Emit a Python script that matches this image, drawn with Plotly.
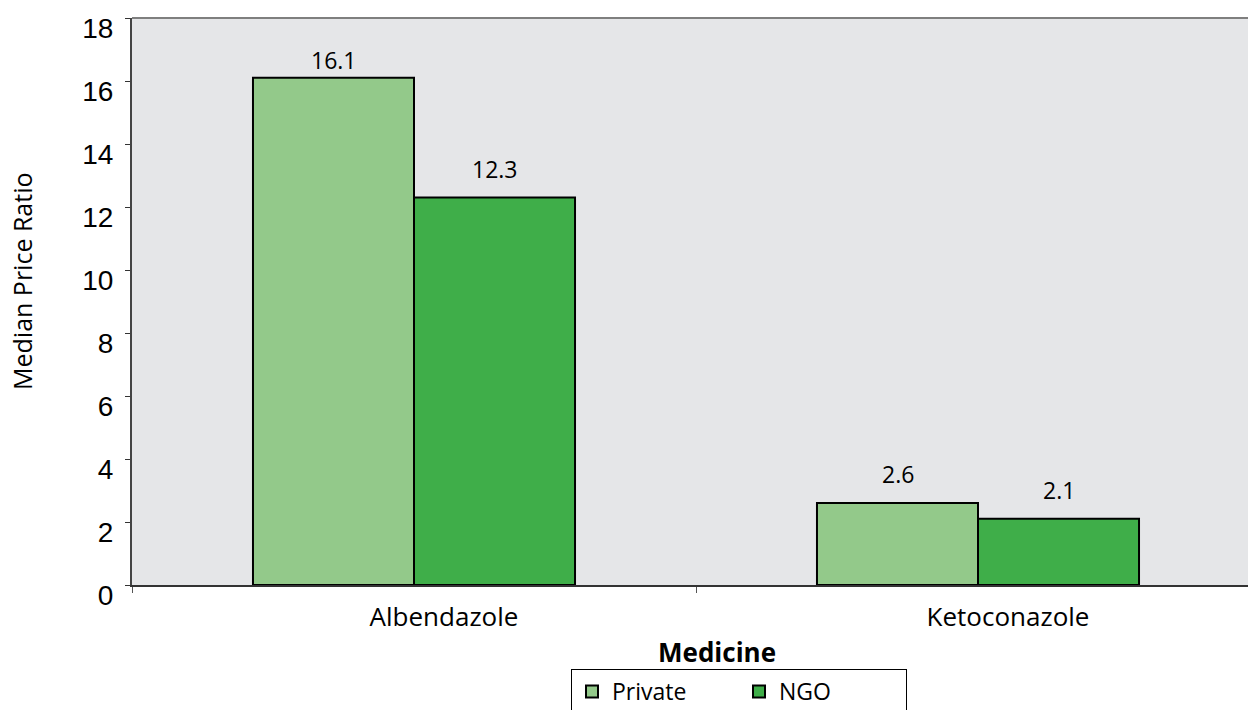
import plotly.graph_objects as go

# Median price ratios by medicine and sector
medicines = ["Albendazole", "Ketoconazole"]
private_vals = [16.1, 2.6]
ngo_vals = [12.3, 2.1]
y_ticks = [0, 2, 4, 6, 8, 10, 12, 14, 16, 18]

LABEL_FONT = "Open Sans, Noto Sans, sans-serif"
TICK_FONT = "Liberation Sans, Arial, sans-serif"

fig = go.Figure()
fig.add_trace(go.Bar(
    name="Private", x=medicines, y=private_vals,
    marker=dict(color="#93C98A", line=dict(color="#000000", width=2)),
))
fig.add_trace(go.Bar(
    name="NGO", x=medicines, y=ngo_vals,
    marker=dict(color="#3FAE49", line=dict(color="#000000", width=2)),
))

# value labels above each bar; the tallest label is tucked closer to its bar
bar_px = 161
for series, offset in ((private_vals, -bar_px / 2), (ngo_vals, bar_px / 2)):
    for med, v in zip(medicines, series):
        shift = 0 if v > 16 else 11
        fig.add_annotation(
            x=med, y=v, text=f"{v:.1f}", showarrow=False,
            xshift=offset, yshift=shift, yanchor="bottom",
            font=dict(family=LABEL_FONT, size=23, color="#000000"),
        )

# axis titles
fig.add_annotation(
    xref="paper", yref="paper", x=(717 - 132) / 1116, y=-(652 - 585) / 567,
    xanchor="center", yanchor="middle", showarrow=False,
    text="<b>Medicine</b>",
    font=dict(family=LABEL_FONT, size=26, color="#000000"),
)
fig.add_annotation(
    xref="paper", yref="paper", x=(22 - 132) / 1116, y=(585 - 281) / 567,
    xanchor="center", yanchor="middle", showarrow=False, textangle=-90,
    text="Median Price Ratio",
    font=dict(family=LABEL_FONT, size=25, color="#000000"),
)

fig.update_layout(
    width=1248, height=710,
    margin=dict(l=132, r=0, t=18, b=125),
    paper_bgcolor="#FFFFFF", plot_bgcolor="#E5E6E8",
    barmode="group", bargap=0.429, bargroupgap=0,
    showlegend=True,
    legend=dict(
        orientation="h", xref="container", yref="container",
        x=571 / 1248, y=1 - 669 / 710, xanchor="left", yanchor="top",
        bordercolor="#000000", borderwidth=1, bgcolor="#FFFFFF",
        font=dict(family=LABEL_FONT, size=23, color="#000000"),
        entrywidth=122, itemwidth=30, traceorder="normal",
    ),
    xaxis=dict(
        range=[-0.5, -0.5 + 1116 / 564],
        tickson="boundaries", ticks="outside", ticklen=6, tickcolor="#555555",
        showline=True, linecolor="#333333", linewidth=2,
        showgrid=False, zeroline=False,
        tickfont=dict(family=LABEL_FONT, size=26, color="#000000"),
        ticklabelstandoff=8, ticklabelshift=30,
    ),
    yaxis=dict(
        range=[0, 18], tickvals=y_ticks, ticks="outside", ticklen=5,
        tickcolor="#333333", showline=True, linecolor="#444444", linewidth=2,
        showgrid=False, zeroline=False,
        tickfont=dict(family=TICK_FONT, size=28, color="#000000"),
        ticklabelshift=10, ticklabelstandoff=6,
    ),
)

# top border of the plotting area
fig.add_shape(type="line", xref="paper", yref="paper", x0=0, x1=1, y0=1, y1=1,
              line=dict(color="#7F7F7F", width=2))

fig.write_html("out.html")
